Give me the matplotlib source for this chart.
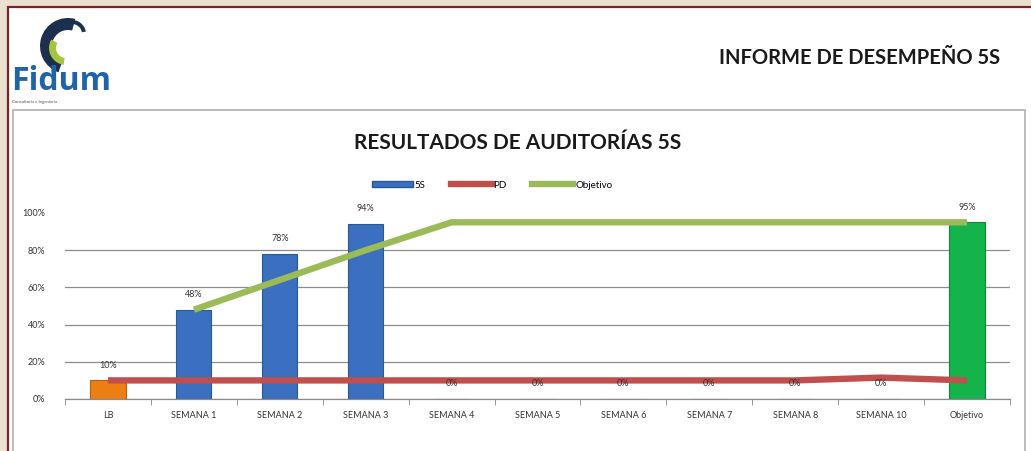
import matplotlib
matplotlib.use("Agg")
import matplotlib.pyplot as plt
from matplotlib.patches import Rectangle, Wedge, Patch
from matplotlib.lines import Line2D
import numpy as np

categories = ["LB", "SEMANA 1", "SEMANA 2", "SEMANA 3", "SEMANA 4", "SEMANA 5",
              "SEMANA 6", "SEMANA 7", "SEMANA 8", "SEMANA 10", "Objetivo"]
values_5s = [10, 48, 78, 94, 0, 0, 0, 0, 0, 0, 95]
values_pd = [10, 10, 10, 10, 10, 10, 10, 10, 10, 11.5, 10]
values_obj = [None, 48, 64, 80, 95, 95, 95, 95, 95, 95, 95]
bar_labels = ["10%", "48%", "78%", "94%", "0%", "0%", "0%", "0%", "0%", "0%", "95%"]
yticks = [0, 20, 40, 60, 80, 100]
ytick_labels = ["0%", "20%", "40%", "60%", "80%", "100%"]

FONT = ["Lato", "DejaVu Sans"]
plt.rcParams["font.family"] = FONT

W, H = 1031, 451
fig = plt.figure(figsize=(W / 100, H / 100), dpi=100)
fig.patch.set_facecolor("#ebe1d1")

def fx(px):
    return px / W

def fy(py):
    return 1 - py / H

# white panel with dark red border
fig.patches.append(Rectangle((fx(8), fy(460)), fx(1040) - fx(8), fy(7) - fy(460),
                             transform=fig.transFigure, facecolor="white",
                             edgecolor="#7b2226", linewidth=1.6, zorder=-3))
# inner gray frame
fig.patches.append(Rectangle((fx(12.5), fy(460)), fx(1025) - fx(12.5), fy(110) - fy(460),
                             transform=fig.transFigure, facecolor="none",
                             edgecolor="#b0b0b0", linewidth=1.2, zorder=-2))

# logo (axes spans pixels x 10..110, y 10..112)
logo = fig.add_axes([fx(10), fy(112), fx(110) - fx(10), fy(10) - fy(112)])
logo.set_zorder(3)
logo.set_xlim(0, 100)
logo.set_ylim(0, 102)
logo.axis("off")
logo.add_patch(Wedge((58, 66), 28, 75, 250, width=12, facecolor="#1c2f4f"))
logo.add_patch(Wedge((56, 64), 17, 150, 262, width=7, facecolor="#a4c63e"))
logo.add_patch(Wedge((62, 78), 14, 10, 110, width=4, facecolor="#1c2f4f"))
logo.text(1, 30, "Fidum", fontsize=23, color="#1f63a8", fontweight="bold",
          va="center", ha="left", family=["Open Sans", "DejaVu Sans"])
logo.text(2, 10, "Consultoría e Ingeniería", fontsize=3.2, color="#555555",
          va="center", ha="left")

fig.text(fx(1000), fy(58), "INFORME DE DESEMPEÑO 5S", fontsize=14.5,
         fontweight="bold", ha="right", va="center", color="#1a1a1a")
fig.text(fx(518), fy(143), "RESULTADOS DE AUDITORÍAS 5S", fontsize=15,
         fontweight="bold", ha="center", va="center", color="#1a1a1a")

ax = fig.add_axes([fx(65), fy(399), fx(1010) - fx(65), fy(213) - fy(399)])
ax.set_zorder(3)
x = np.arange(len(categories))
bar_colors = ["#ec7f12"] + ["#3a70bf"] * 9 + ["#14b34b"]
edge_colors = ["#b85f08"] + ["#2a5795"] * 9 + ["#0d8a38"]
bars = ax.bar(x, values_5s, width=0.41, color=bar_colors, edgecolor=edge_colors,
              linewidth=0.8, zorder=2)
ax.plot(x, values_pd, color="#c0504d", linewidth=4.6, zorder=3,
        solid_capstyle="butt")
obj = np.array([np.nan if v is None else v for v in values_obj], dtype=float)
ax.plot(x, obj, color="#9bbb59", linewidth=4.6, zorder=3,
        solid_capstyle="butt")

for xi, v, lab in zip(x, values_5s, bar_labels):
    ax.annotate(lab, (xi, v), xytext=(0, 11), textcoords="offset points",
                ha="center", va="center", fontsize=6.5, color="#333333", zorder=4)

ax.set_xlim(-0.5, len(categories) - 0.5)
ax.set_ylim(0, 100)
ax.set_yticks(yticks)
ax.set_yticklabels(ytick_labels, fontsize=6.5, color="#333333")
ax.set_xticks(x)
ax.set_xticklabels(categories, fontsize=6.5, color="#333333")
ax.set_xticks(np.arange(-0.5, len(categories), 1), minor=True)
ax.tick_params(axis="x", which="major", length=0, pad=9)
ax.tick_params(axis="x", which="minor", length=4, color="#888888", direction="out")
ax.tick_params(axis="y", length=0, pad=14)
ax.yaxis.grid(True, color="#8c8c8c", linewidth=0.9)
gl = ax.get_ygridlines()
gl[-1].set_visible(False)
ax.set_axisbelow(True)
for s in ["left", "right", "top"]:
    ax.spines[s].set_visible(False)
ax.spines["bottom"].set_color("#8c8c8c")
ax.spines["bottom"].set_linewidth(0.9)
ax.patch.set_alpha(0)

handles = [Patch(facecolor="#3a70bf", edgecolor="#2a5795"),
           Line2D([], [], color="#c0504d", linewidth=4.6),
           Line2D([], [], color="#9bbb59", linewidth=4.6)]
leg = fig.legend(handles=handles, labels=["5S", "PD", "Objetivo"],
                 loc="center", bbox_to_anchor=(fx(492), fy(185)), ncol=3, frameon=False,
                 fontsize=7, handlelength=4.2, handletextpad=0.2, columnspacing=2.6,
                 handleheight=0.5)

fig.savefig("out.png", dpi=100, facecolor=fig.get_facecolor())
